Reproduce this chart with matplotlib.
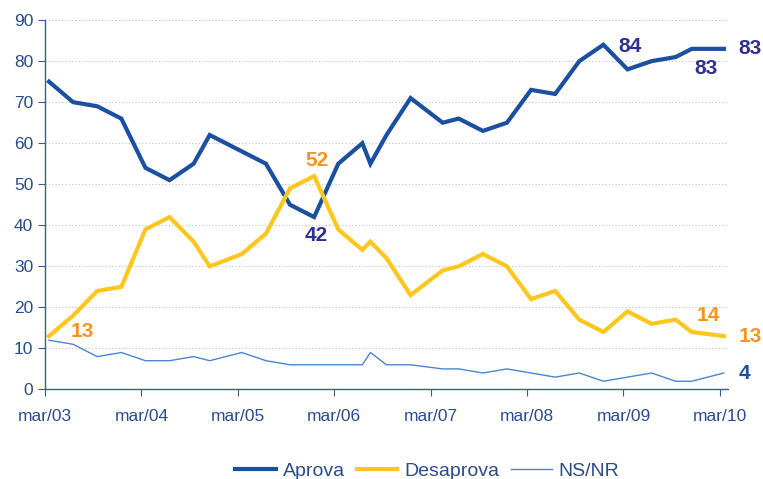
import matplotlib.pyplot as plt

plt.rcParams['font.family'] = ['Liberation Sans', 'DejaVu Sans']

# meses desde mar/03
meses = [0.5, 3.5, 6.5, 9.5, 12.5, 15.5, 18.5, 20.5, 24.5, 27.5,
         30.5, 33.5, 36.5, 39.5, 40.5, 42.5, 45.5, 49.5, 51.5, 54.5,
         57.5, 60.5, 63.5, 66.5, 69.5, 72.5, 75.5, 78.5, 80.5, 84.5]
aprova = [75, 70, 69, 66, 54, 51, 55, 62, 58, 55,
          45, 42, 55, 60, 55, 62, 71, 65, 66, 63,
          65, 73, 72, 80, 84, 78, 80, 81, 83, 83]
desaprova = [13, 18, 24, 25, 39, 42, 36, 30, 33, 38,
             49, 52, 39, 34, 36, 32, 23, 29, 30, 33,
             30, 22, 24, 17, 14, 19, 16, 17, 14, 13]
nsnr = [12, 11, 8, 9, 7, 7, 8, 7, 9, 7,
        6, 6, 6, 6, 9, 6, 6, 5, 5, 4,
        5, 4, 3, 4, 2, 3, 4, 2, 2, 4]

tick_pos = [0, 12, 24, 36, 48, 60, 72, 84]
tick_lab = ['mar/03', 'mar/04', 'mar/05', 'mar/06', 'mar/07', 'mar/08', 'mar/09', 'mar/10']

c_aprova = '#1B50A0'
c_desap = '#FFC61E'
c_ns = '#4A86D0'
c_txt = '#2B4C8C'
c_orange = '#F7941D'
c_navy = '#2E3192'

fig = plt.figure(figsize=(7.63, 4.79), dpi=100)
ax = fig.add_axes([0.059, 0.187, 0.895, 0.771])

ax.plot(meses, aprova, color=c_aprova, lw=3.0, label='Aprova', solid_joinstyle='miter')
ax.plot(meses, desaprova, color=c_desap, lw=3.0, label='Desaprova', solid_joinstyle='miter')
ax.plot(meses, nsnr, color=c_ns, lw=1.0, label='NS/NR')

ax.set_xlim(0, 85)
ax.set_ylim(0, 90)
ax.set_yticks(range(0, 91, 10))
ax.set_xticks(tick_pos)
ax.set_xticklabels(tick_lab)
ax.grid(axis='y', linestyle=(0, (1, 2)), color='#BFBFBF', lw=0.8)
ax.set_axisbelow(True)

for s in ['top', 'right']:
    ax.spines[s].set_visible(False)
for s in ['left', 'bottom']:
    ax.spines[s].set_color('#3A5A98')
    ax.spines[s].set_linewidth(1.0)
ax.tick_params(colors='#3A5A98', labelcolor=c_txt, labelsize=12.5, length=5, direction='out')
ax.tick_params(axis='x', pad=9)

# rótulos
kw = dict(fontsize=15, fontweight='bold', ha='center', va='center', clip_on=False)
ax.text(4.6, 14.0, '13', color=c_orange, **kw)
ax.text(33.8, 55.7, '52', color=c_orange, **kw)
ax.text(33.8, 37.6, '42', color=c_navy, **kw)
ax.text(72.8, 83.5, '84', color=c_navy, **kw)
ax.text(82.3, 78.2, '83', color=c_navy, **kw)
ax.text(87.8, 83.1, '83', color=c_navy, **kw)
ax.text(82.5, 17.9, '14', color=c_orange, **kw)
ax.text(87.8, 12.8, '13', color=c_orange, **kw)
ax.text(87.0, 3.9, '4', color=c_aprova, **kw)

leg = fig.legend(loc='center', bbox_to_anchor=(0.56, 0.017), ncol=3, frameon=False,
                 fontsize=14, handlelength=2.1, handletextpad=0.35, columnspacing=0.6)
for t in leg.get_texts():
    t.set_color(c_txt)

fig.savefig('out.png', dpi=100)
